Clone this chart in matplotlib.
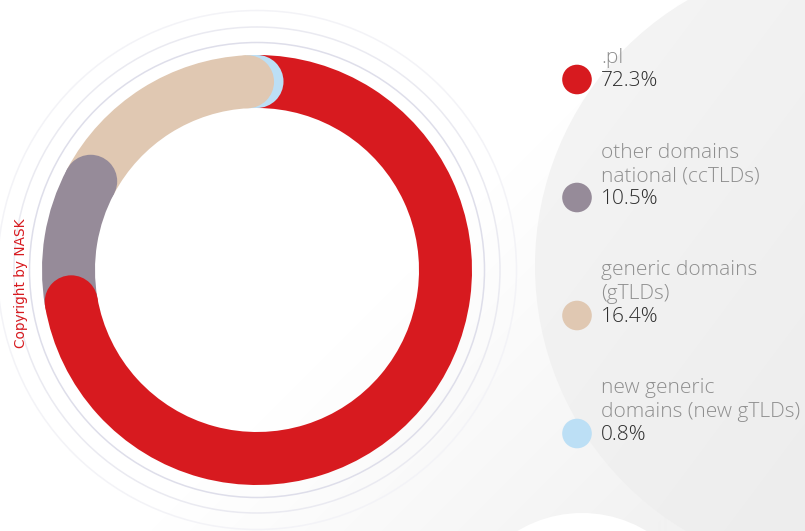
import numpy as np
import matplotlib.pyplot as plt
from matplotlib.patches import Wedge, Circle
from matplotlib.colors import LinearSegmentedColormap

# dane: udzial domen
labels = ['.pl', 'other domains\nnational (ccTLDs)', 'generic domains\n(gTLDs)',
          'new generic\ndomains (new gTLDs)']
shares = [72.3, 10.5, 16.4, 0.8]
values = ['72.3%', '10.5%', '16.4%', '0.8%']
colors = ['#d71a1f', '#968b99', '#e0c8b2', '#bcdff5']

plt.rcParams['font.family'] = ['Open Sans', 'DejaVu Sans']

W, H = 805, 531
fig = plt.figure(figsize=(W / 100, H / 100), dpi=100)
ax = fig.add_axes([0, 0, 1, 1])
ax.set_xlim(0, W)
ax.set_ylim(H, 0)
ax.axis('off')

# tlo - lekki gradient i duzy szary luk po prawej
xx, yy = np.meshgrid(np.arange(W), np.arange(H))
bg = np.clip(((xx - 380) + (yy - 300)) / 500, 0, 1)
cm_bg = LinearSegmentedColormap.from_list('bg', ['#ffffff', '#f2f2f2'])
ax.imshow(bg, cmap=cm_bg, extent=(0, W, H, 0), vmin=0, vmax=1, zorder=0, aspect='auto')

blob = Circle((843, 266), 308, fc='none', ec='none')
ax.add_patch(blob)
sh = np.clip((yy / H) * 0.6 + (xx - 540) / 265 * 0.4, 0, 1)
cm_sh = LinearSegmentedColormap.from_list('sh', ['#f5f5f5', '#ededed'])
im = ax.imshow(sh, cmap=cm_sh, extent=(0, W, H, 0), vmin=0, vmax=1, zorder=0.5, aspect='auto')
im.set_clip_path(blob)
ax.add_patch(Circle((582, 638), 125, fc='white', ec='none', zorder=0.8))

cx, cy = 257, 270
r_out, width = 215, 53
r_mid = r_out - width / 2

# cienkie okregi dookola
for r, c in [(227.5, '#dedeea'), (243, '#eaeaf1'), (259.5, '#f3f3f7')]:
    ax.add_patch(Circle((cx, cy), r, fill=False, ec=c, lw=1.1, zorder=1))

# katy segmentow (od gory, zgodnie z zegarem)
starts = []
a = -90.0
for s in shares:
    starts.append(a)
    a += 360 * s / 100.0
ends = [starts[i] + 360 * shares[i] / 100.0 for i in range(len(shares))]

def cap(i):
    t = np.deg2rad(ends[i])
    ax.add_patch(Circle((cx + r_mid * np.cos(t), cy + r_mid * np.sin(t)), width / 2,
                        fc=colors[i], ec='none', zorder=3))

ax.add_patch(Wedge((cx, cy), r_out, starts[0], ends[0], width=width,
                   fc=colors[0], ec='none', zorder=2))
for i in [3, 2, 1]:
    ax.add_patch(Wedge((cx, cy), r_out, starts[i], ends[i], width=width,
                       fc=colors[i], ec='none', zorder=3))
    cap(i)
cap(0)

ax.text(21, 283, 'Copyright by NASK', rotation=90, color='#d71a1f', fontsize=9.8,
        family='DejaVu Sans', ha='center', va='center', zorder=5)

# legenda
ly0, dy = 79.5, 118
line = 23.5
for i in range(len(labels)):
    yc = ly0 + i * dy
    ax.add_patch(Circle((577, yc), 14.8, fc=colors[i], ec='none', zorder=4))
    base = yc + 7
    ax.text(601, base, values[i], color='#2e2e2e', fontsize=15, fontweight='light',
            ha='left', va='baseline', zorder=5)
    lines = labels[i].split('\n')
    for k, t in enumerate(reversed(lines)):
        ax.text(601, base - line * (k + 1), t, color='#8e8e8e', fontsize=15,
                fontweight='light', ha='left', va='baseline', zorder=5)

fig.savefig('out.png', dpi=100)
